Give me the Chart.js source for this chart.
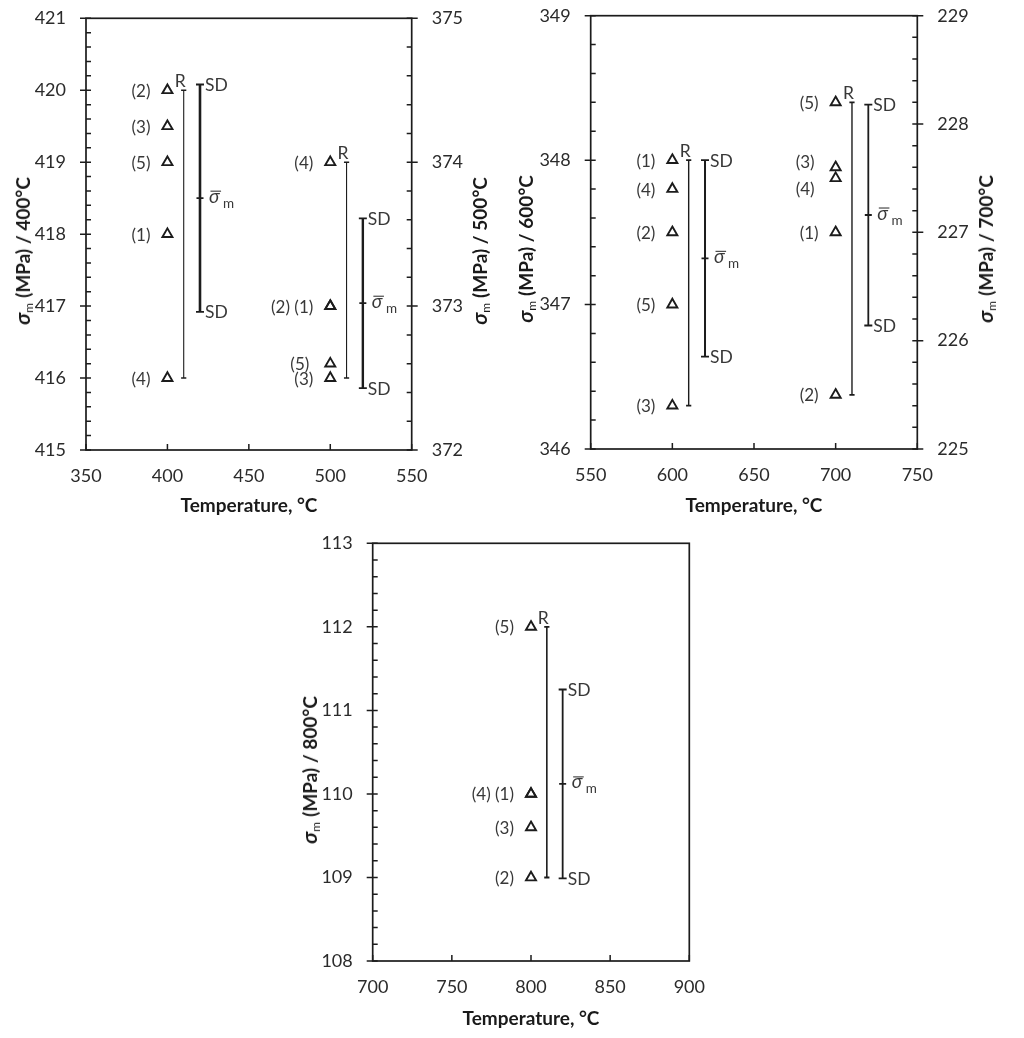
<!DOCTYPE html>
<html>
<head>
<meta charset="utf-8">
<script src="https://cdn.jsdelivr.net/npm/chart.js@4.4.1/dist/chart.umd.min.js"></script>
<style>
  html, body { margin: 0; padding: 0; background: #ffffff; }
  body { width: 1024px; height: 1038px; position: relative; overflow: hidden; font-family: Lato, "Open Sans", sans-serif; }
  canvas { position: absolute; }
  .yt, .xt { position: absolute; font-weight: bold; font-size: 19px; color: #1a1a1a; white-space: nowrap; line-height: 1; }
  .xt { transform: translate(-50%, -50%); }
  .yt { transform: translate(-50%, -50%) rotate(-90deg); }
  .yt i { font-style: italic; font-size: 21px; }
  .yt sub { font-size: 12px; font-weight: normal; vertical-align: -3px; margin-right: 5px; }
</style>
</head>
<body>
<canvas id="p1" width="515" height="530" style="left:0px;top:0px"></canvas>
<canvas id="p2" width="509" height="530" style="left:515px;top:0px"></canvas>
<canvas id="p3" width="440" height="518" style="left:280px;top:520px"></canvas>

<div class="yt" style="left:23px;top:251px"><i>σ</i><sub>m</sub>(MPa) / 400°C</div>
<div class="yt" style="left:480px;top:251px"><i>σ</i><sub>m</sub>(MPa) / 500°C</div>
<div class="yt" style="left:526px;top:249px"><i>σ</i><sub>m</sub>(MPa) / 600°C</div>
<div class="yt" style="left:986px;top:249px"><i>σ</i><sub>m</sub>(MPa) / 700°C</div>
<div class="yt" style="left:310px;top:770px"><i>σ</i><sub>m</sub>(MPa) / 800°C</div>
<div class="xt" style="left:249px;top:504px">Temperature, °C</div>
<div class="xt" style="left:754px;top:504px">Temperature, °C</div>
<div class="xt" style="left:531px;top:1017px">Temperature, °C</div>

<script>
// ---------------- data ----------------
const specimens    = [1, 2, 3, 4, 5];
const temperatures = [400, 500, 600, 700, 800];          // °C
const sigma400 = [418.0, 420.0, 419.5, 416.0, 419.0];   // specimens (1)..(5), MPa
const sigma500 = [373.0, 373.0, 372.5, 374.0, 372.6];
const sigma600 = [348.0, 347.5, 346.3, 347.8, 347.0];
const sigma700 = [227.0, 225.5, 227.6, 227.5, 228.2];
const sigma800 = [110.0, 109.0, 109.6, 110.0, 112.0];
const meanSigma = [418.5, 373.02, 347.32, 227.16, 110.12];
const sdSigma   = [1.58, 0.59, 0.68, 1.02, 1.13];
const rangeMin  = [416.0, 372.5, 346.3, 225.5, 109.0];
const rangeMax  = [420.0, 374.0, 348.0, 228.2, 112.0];
// axis ranges / ticks
const yRange400 = [415, 421];
const yRange500 = [372, 375];
const yRange600 = [346, 349];
const yRange700 = [225, 229];
const yRange800 = [108, 113];
const xRangeA = [350, 550];
const xRangeB = [550, 750];
const xRangeC = [700, 900];
const xStep = 50, yMinorStep = 0.2;

// ---------------- styling ----------------
const INK = '#1c1c1c';
const TXT = '#2b2b2b';
const LBL = '#383838';
const FONT = 'Lato, "Open Sans", sans-serif';
const rOffset = 10, sdOffset = 20;
const isInt = v => Math.abs(v - Math.round(v)) < 1e-6;

function makeGroup(i, sigma, yAxisID, rw, sdw) {
  return { temp: temperatures[i], sigma, mean: meanSigma[i], sd: sdSigma[i],
           rmin: rangeMin[i], rmax: rangeMax[i], yAxisID, rw, sdw };
}

function datasetsFor(g) {
  const rx = g.temp + rOffset, sx = g.temp + sdOffset;
  return [
    { type: 'scatter', yAxisID: g.yAxisID,
      data: g.sigma.map(v => ({ x: g.temp, y: v })),
      pointStyle: 'triangle', pointRadius: 5.8, pointHoverRadius: 5.8,
      pointBorderWidth: 1.9, pointBorderColor: INK, pointBackgroundColor: 'rgba(0,0,0,0)', showLine: false },
    { type: 'line', yAxisID: g.yAxisID,
      data: [{ x: rx, y: g.rmin }, { x: rx, y: g.rmax }],
      borderColor: INK, borderWidth: g.rw, fill: false, tension: 0,
      pointStyle: 'line', pointRadius: 2.6, pointHoverRadius: 2.6, pointBorderWidth: g.rw + 0.3, pointBorderColor: INK },
    { type: 'line', yAxisID: g.yAxisID,
      data: [{ x: sx, y: g.mean - g.sd }, { x: sx, y: g.mean }, { x: sx, y: g.mean + g.sd }],
      borderColor: INK, borderWidth: g.sdw, fill: false, tension: 0,
      pointStyle: 'line', pointRadius: [4, 3.5, 4], pointHoverRadius: [4, 3.5, 4], pointBorderWidth: 1.8, pointBorderColor: INK }
  ];
}

// frame and inward / crossing tick marks
const framePlugin = {
  id: 'frame',
  afterDraw(chart) {
    const { ctx, chartArea: a } = chart;
    ctx.save();
    ctx.strokeStyle = INK;
    ctx.lineWidth = 1.7;
    ctx.lineCap = 'butt';
    ctx.strokeRect(a.left, a.top, a.right - a.left, a.bottom - a.top);
    ctx.lineWidth = 1.5;
    Object.values(chart.scales).forEach(s => {
      ctx.beginPath();
      if (s.axis === 'y') {
        const left = s.position === 'left';
        const x0 = left ? a.left : a.right;
        const dir = left ? 1 : -1;
        s.ticks.forEach(t => {
          const y = s.getPixelForValue(t.value);
          if (isInt(t.value)) { ctx.moveTo(x0 - dir * 6, y); ctx.lineTo(x0 + dir * 5, y); }
          else { ctx.moveTo(x0, y); ctx.lineTo(x0 + dir * 5, y); }
        });
      } else {
        s.ticks.forEach(t => {
          const x = s.getPixelForValue(t.value);
          ctx.moveTo(x, a.bottom); ctx.lineTo(x, a.bottom - 6);
        });
      }
      ctx.stroke();
    });
    ctx.restore();
  }
};

// specimen numbers, R, SD and mean labels
const labelPlugin = {
  id: 'marks',
  afterDatasetsDraw(chart, args, opts) {
    const { ctx } = chart;
    const xs = chart.scales.x;
    ctx.save();
    ctx.fillStyle = LBL;
    ctx.strokeStyle = LBL;
    (opts.groups || []).forEach(g => {
      const ys = chart.scales[g.yAxisID];
      const px = xs.getPixelForValue(g.temp);
      // specimen labels, grouped by equal value
      const byVal = new Map();
      g.sigma.forEach((v, k) => {
        const key = v.toFixed(3);
        if (!byVal.has(key)) byVal.set(key, { v, ids: [] });
        byVal.get(key).ids.push(specimens[k]);
      });
      ctx.font = '17px ' + FONT;
      ctx.textAlign = 'right';
      ctx.textBaseline = 'middle';
      byVal.forEach(({ v, ids }) => {
        ids.sort((a, b) => b - a);
        const txt = ids.map(n => '(' + n + ')').join(' ');
        const nud = (opts.nudge && opts.nudge[g.temp + '-' + ids[0]]) || [0, 0];
        ctx.fillText(txt, px - 17 + nud[0], ys.getPixelForValue(v) + 1 + nud[1]);
      });
      // R label
      const rx = xs.getPixelForValue(g.temp + rOffset);
      ctx.font = '17.5px ' + FONT;
      ctx.textAlign = 'center';
      ctx.textBaseline = 'alphabetic';
      ctx.fillText('R', rx - 3.5, ys.getPixelForValue(g.rmax) - 3);
      // SD labels
      const sx = xs.getPixelForValue(g.temp + sdOffset);
      ctx.textAlign = 'left';
      ctx.textBaseline = 'middle';
      ctx.fillText('SD', sx + 5, ys.getPixelForValue(g.mean + g.sd) + 1);
      ctx.fillText('SD', sx + 5, ys.getPixelForValue(g.mean - g.sd) + 1);
      // mean label  σ̄m
      const my = ys.getPixelForValue(g.mean);
      ctx.textBaseline = 'alphabetic';
      ctx.font = 'italic 19px ' + FONT;
      const x0 = sx + 9;
      ctx.fillText('σ', x0, my + 4.5);
      const w = ctx.measureText('σ').width;
      ctx.lineWidth = 1.1;
      ctx.beginPath();
      ctx.moveTo(x0 + 1.5, my - 7); ctx.lineTo(x0 + w + 1.5, my - 7);
      ctx.stroke();
      ctx.font = '13.5px ' + FONT;
      ctx.fillText('m', x0 + w + 3.5, my + 9.5);
    });
    ctx.restore();
  }
};

function tickFont() { return { family: FONT, size: 18 }; }
const hiddenGrid = len => ({ display: true, drawOnChartArea: false, drawTicks: true, tickLength: len,
                             color: 'rgba(0,0,0,0)', lineWidth: 0 });

function yAxis(range, position, width) {
  return {
    type: 'linear', position, min: range[0], max: range[1],
    ticks: { stepSize: yMinorStep, maxTicksLimit: 200, autoSkip: false, padding: 2,
             color: TXT, font: tickFont(),
             callback: v => isInt(v) ? String(Math.round(v)) : '' },
    grid: hiddenGrid(18),
    border: { display: false },
    afterFit(s) { s.width = width; }
  };
}
function xAxis(range, height) {
  return {
    type: 'linear', position: 'bottom', min: range[0], max: range[1],
    ticks: { stepSize: xStep, autoSkip: false, padding: 2, color: TXT, font: tickFont(),
             maxRotation: 0 },
    grid: hiddenGrid(13),
    border: { display: false },
    afterFit(s) { s.height = height; }
  };
}

function makePanel(id, groups, scales, padding, nudge) {
  const datasets = [];
  groups.forEach(g => datasets.push(...datasetsFor(g)));
  new Chart(document.getElementById(id), {
    type: 'scatter',
    data: { datasets },
    options: {
      responsive: false, animation: false, events: [],
      layout: { padding, autoPadding: false },
      scales,
      plugins: { legend: { display: false }, tooltip: { enabled: false },
                 marks: { groups, nudge } }
    },
    plugins: [framePlugin, labelPlugin]
  });
}

// Panel 1: 400 °C (left) and 500 °C (right)
makePanel('p1',
  [makeGroup(0, sigma400, 'y', 1.1, 2.6), makeGroup(1, sigma500, 'y2', 1.1, 2.4)],
  { x: xAxis(xRangeA, 80), y: yAxis(yRange400, 'left', 86), y2: yAxis(yRange500, 'right', 103.3) },
  { top: 18.3, bottom: 0, left: 0, right: 0 },
  { '500-5': [-4, 0] });

// Panel 2: 600 °C (left) and 700 °C (right)
makePanel('p2',
  [makeGroup(2, sigma600, 'y', 1.4, 2.0), makeGroup(3, sigma700, 'y2', 1.4, 1.8)],
  { x: xAxis(xRangeB, 81), y: yAxis(yRange600, 'left', 75.7), y2: yAxis(yRange700, 'right', 106.7) },
  { top: 15.7, bottom: 0, left: 0, right: 0 },
  { '700-3': [-4, -6], '700-4': [-4, 10] });

// Panel 3: 800 °C
makePanel('p3',
  [makeGroup(4, sigma800, 'y', 1.6, 1.8)],
  { x: xAxis(xRangeC, 77), y: yAxis(yRange800, 'left', 92.7) },
  { top: 23.3, bottom: 0, left: 0, right: 30.7 },
  {});
</script>
</body>
</html>
